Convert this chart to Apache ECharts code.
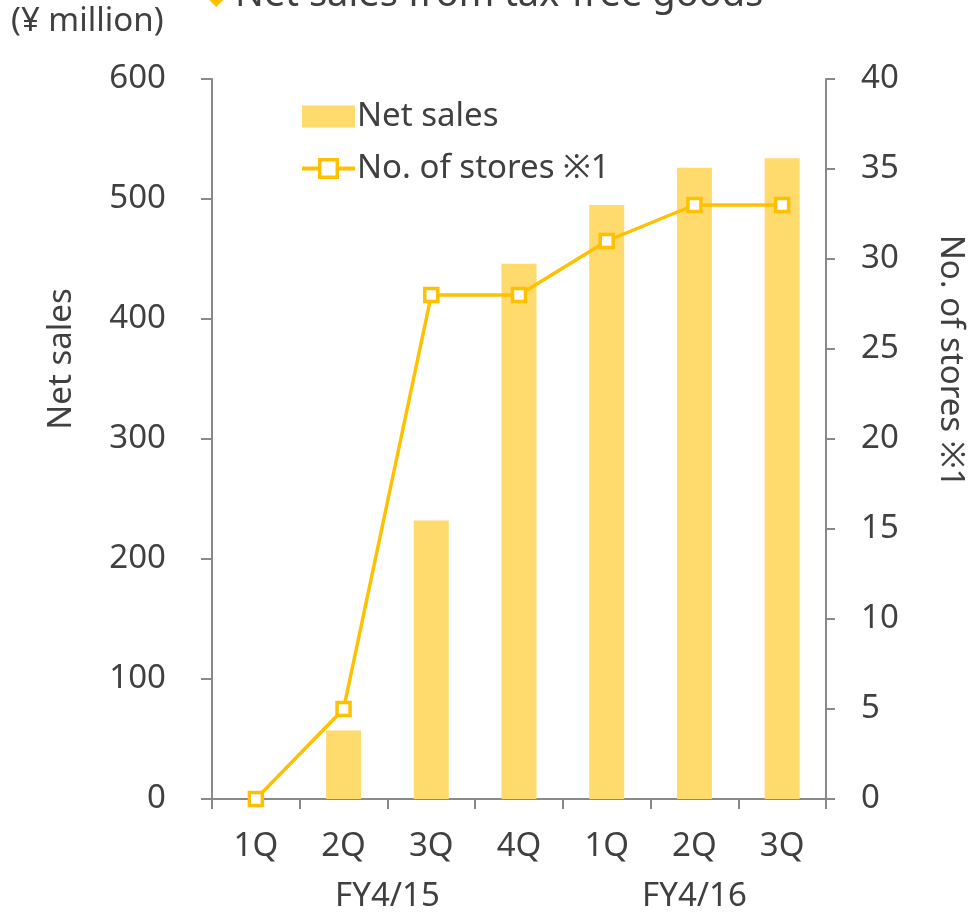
<!DOCTYPE html>
<html>
<head>
<meta charset="utf-8">
<script src="https://cdn.jsdelivr.net/npm/echarts@6/dist/echarts.min.js"></script>
<style>
  html, body { margin: 0; padding: 0; background: #fff; }
  #chart { width: 973px; height: 912px; }
</style>
</head>
<body>
<div id="chart"></div>
<script>
// Quarterly tax-free sales and store counts
const quarters = ['1Q', '2Q', '3Q', '4Q', '1Q', '2Q', '3Q'];
const fiscalYears = ['FY4/15', 'FY4/16'];
const quartersPerYear = [4, 3];
const netSales = [0, 57, 232, 446, 495, 526, 534];      // ¥ million
const storeCounts = [0, 5, 28, 28, 31, 33, 33];
const salesTicks = { min: 0, max: 600, interval: 100 };
const storeTicks = { min: 0, max: 40, interval: 5 };

const FONT = '"Noto Sans", "Open Sans", sans-serif';
const FS = 33;
const TEXT = '#404040';
const AXIS = '#898989';
const BAR = '#FFDA6D';
const LINE = '#FFC000';

const chart = echarts.init(document.getElementById('chart'), null, { renderer: 'canvas' });

const option = {
  backgroundColor: '#fff',
  animation: false,
  textStyle: { fontFamily: FONT, color: TEXT },
  grid: { left: 212, right: 147, top: 79, bottom: 113 },
  legend: {
    orient: 'vertical',
    left: 295,
    top: 95,
    itemWidth: 53,
    itemHeight: 22,
    itemGap: 19,
    textStyle: { fontFamily: FONT, fontSize: FS, color: TEXT, padding: [0, 0, 0, -3] },
    data: [
      { name: 'Net sales', icon: 'rect' },
      {
        name: 'No. of stores ※1',
        lineStyle: { color: LINE, width: 4 },
        itemStyle: { color: '#fff', borderColor: LINE, borderWidth: 3.5 }
      }
    ]
  },
  xAxis: {
    type: 'category',
    data: quarters,
    axisLine: { lineStyle: { color: AXIS, width: 2 } },
    axisTick: { show: true, length: 10, lineStyle: { color: AXIS, width: 2 } },
    axisLabel: { fontSize: FS, color: TEXT, margin: 31 }
  },
  yAxis: [
    {
      type: 'value',
      min: salesTicks.min, max: salesTicks.max, interval: salesTicks.interval,
      splitLine: { show: false },
      axisLine: { show: true, lineStyle: { color: AXIS, width: 2 } },
      axisTick: { show: true, length: 11, lineStyle: { color: AXIS, width: 2 } },
      axisLabel: { fontSize: FS, color: TEXT, margin: 46 }
    },
    {
      type: 'value',
      min: storeTicks.min, max: storeTicks.max, interval: storeTicks.interval,
      splitLine: { show: false },
      axisLine: { show: true, lineStyle: { color: AXIS, width: 2 } },
      axisTick: { show: true, length: 9, lineStyle: { color: AXIS, width: 2 } },
      axisLabel: { fontSize: FS, color: TEXT, margin: 35 }
    }
  ],
  series: [
    {
      name: 'Net sales',
      type: 'bar',
      data: netSales,
      barWidth: 35,
      itemStyle: { color: BAR },
      z: 2
    },
    {
      name: 'No. of stores ※1',
      type: 'line',
      yAxisIndex: 1,
      data: storeCounts,
      symbol: 'rect',
      symbolSize: 13,
      lineStyle: { color: LINE, width: 3.5 },
      itemStyle: { color: '#fff', borderColor: LINE, borderWidth: 3.5 },
      z: 3
    }
  ]
};

chart.setOption(option);

// Fiscal-year group labels under the quarter labels, centred on each group's span
const groupTexts = [];
let start = 0;
fiscalYears.forEach(function (fy, i) {
  const end = start + quartersPerYear[i] - 1;
  const x0 = chart.convertToPixel({ xAxisIndex: 0 }, start);
  const x1 = chart.convertToPixel({ xAxisIndex: 0 }, end);
  groupTexts.push({
    type: 'text',
    x: (x0 + x1) / 2,
    y: 897,
    style: { text: fy, font: FS + 'px ' + FONT, fill: TEXT, align: 'center', verticalAlign: 'middle' }
  });
  start = end + 1;
});

chart.setOption({
  graphic: groupTexts.concat([
    {
      type: 'text', x: 11, y: 22,
      style: { text: '(¥ million)', font: '33px ' + FONT, fill: TEXT, align: 'left', verticalAlign: 'middle' }
    },
    {
      type: 'text', x: 62, y: 359, rotation: Math.PI / 2,
      style: { text: 'Net sales', font: FS + 'px ' + FONT, fill: TEXT, align: 'center', verticalAlign: 'middle' }
    },
    {
      type: 'text', x: 950, y: 361, rotation: -Math.PI / 2,
      style: { text: 'No. of stores ※1', font: FS + 'px ' + FONT, fill: TEXT, align: 'center', verticalAlign: 'middle' }
    },
    {
      type: 'text', x: 207, y: -3,
      style: { text: '◆', font: '24px ' + FONT, fill: LINE, align: 'left', verticalAlign: 'middle' }
    },
    {
      type: 'text', x: 235, y: -5,
      style: { text: 'Net sales from tax-free goods', font: '38px ' + FONT, fill: TEXT, align: 'left', verticalAlign: 'middle' }
    }
  ])
});
</script>
</body>
</html>
